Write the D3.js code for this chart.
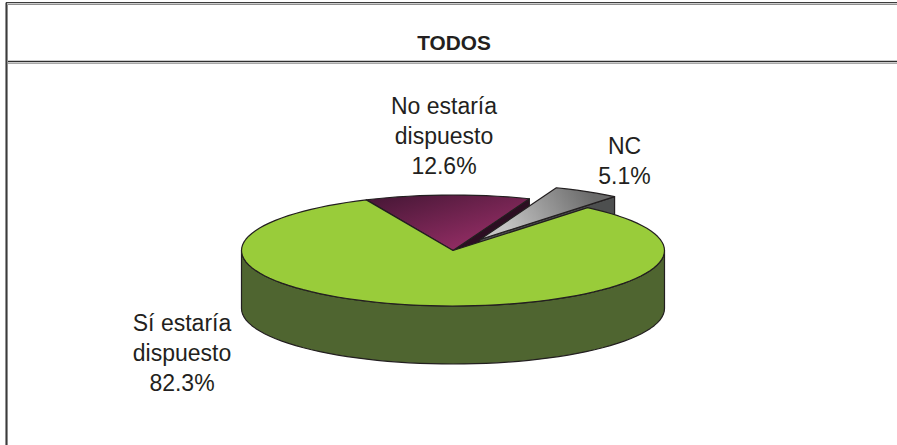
<!DOCTYPE html>
<html>
<head>
<meta charset="utf-8">
<script src="https://cdn.jsdelivr.net/npm/d3@7"></script>
<style>
	html, body { margin: 0; padding: 0; background: #fff; }
	svg { display: block; }
	text { font-family: "Liberation Sans", Arial, sans-serif; fill: #231f20; }
</style>
</head>
<body>
<svg id="chart" width="897" height="445"></svg>
<script>
var chartTitle = "TODOS";
var categories = ["No estaría dispuesto", "NC", "Sí estaría dispuesto"];
var percentages = [12.6, 5.1, 82.3];
var valueLabels = ["12.6%", "5.1%", "82.3%"];
var labelLines = [["No estaría", "dispuesto"], ["NC"], ["Sí estaría", "dispuesto"]];

var svg = d3.select("#chart");
var cx = 453, cy = 250.5, rx = 211.5, ry = 55.5, depth = 58;
var startDeg = -24.2;

var pie = d3.pie().sort(null).startAngle(startDeg * Math.PI / 180).endAngle((startDeg + 360) * Math.PI / 180);
var slices = pie(percentages);

// flat projection of the tilted pie, angle 0 is the back of the pie
function project(angle, off)
{
	return [cx + off[0] + rx * Math.sin(angle), cy + off[1] - ry * Math.cos(angle)];
}

function arcPoints(a0, a1, off)
{
	var steps = Math.max(2, Math.round((a1 - a0) / (3 * Math.PI / 180)));
	return d3.range(steps + 1).map(function (i) { return project(a0 + (a1 - a0) * i / steps, off); });
}

function down(points)
{
	return points.map(function (p) { return [p[0], p[1] + depth]; });
}

var line = d3.line();

var defs = svg.append("defs");
var purpleGrad = defs.append("linearGradient").attr("id", "purpleGrad")
	.attr("gradientUnits", "userSpaceOnUse")
	.attr("x1", 405).attr("y1", 190).attr("x2", 425).attr("y2", 255);
purpleGrad.append("stop").attr("offset", 0).attr("stop-color", "#4a1838");
purpleGrad.append("stop").attr("offset", 1).attr("stop-color", "#8c2b60");
var grayGrad = defs.append("linearGradient").attr("id", "grayGrad")
	.attr("gradientUnits", "userSpaceOnUse")
	.attr("x1", 590).attr("y1", 190).attr("x2", 510).attr("y2", 235);
grayGrad.append("stop").attr("offset", 0).attr("stop-color", "#6a6a6a");
grayGrad.append("stop").attr("offset", 1).attr("stop-color", "#c4c4c4");

var topFill = ["url(#purpleGrad)", "url(#grayGrad)", "#99cc3a"];
var wallFill = ["#2c0e22", "#4d4f4f", "#4f6530"];
var offsets = [[0, 0], [27, -11], [0, 0]];

// frame of the table around the chart
var frame = svg.append("g").attr("fill", "none");
frame.append("path").attr("d", "M5.5,445V3H897").attr("stroke", "#9a9a9a").attr("stroke-width", 1);
frame.append("path").attr("d", "M6.5,445V2.5H897").attr("stroke", "#3c3c3c").attr("stroke-width", 1.2);
frame.append("path").attr("d", "M7.5,445V4.5H897").attr("stroke", "#8e8e8e").attr("stroke-width", 1);
frame.append("path").attr("d", "M8,61.5H897").attr("stroke", "#2e2e2e").attr("stroke-width", 1.4);
frame.append("path").attr("d", "M8,63.5H897").attr("stroke", "#a8a8a8").attr("stroke-width", 1);

svg.append("text").attr("x", 454).attr("y", 50)
	.attr("text-anchor", "middle").attr("font-size", 20.8).attr("font-weight", "bold").text(chartTitle);

var pieGroup = svg.append("g").attr("stroke", "#231f20").attr("stroke-width", 1.2).attr("stroke-linejoin", "round");

// radial wall on the clockwise side of a slice
function drawRadialWall(i)
{
	var d = slices[i], off = offsets[i];
	var apex = [cx + off[0], cy + off[1]];
	var corner = project(d.endAngle, off);
	pieGroup.append("path")
		.attr("d", line([apex, corner, [corner[0], corner[1] + depth], [apex[0], apex[1] + depth]]) + "Z")
		.attr("fill", wallFill[i]);
}

function drawTop(i)
{
	var d = slices[i], off = offsets[i];
	var pts = [[cx + off[0], cy + off[1]]].concat(arcPoints(d.startAngle, d.endAngle, off));
	pieGroup.append("path").attr("d", line(pts) + "Z").attr("fill", topFill[i]);
}

drawRadialWall(0);
drawTop(0);
drawRadialWall(1);
drawTop(1);

// front wall of the big slice, only the half facing the viewer
var front = arcPoints(Math.PI / 2, 3 * Math.PI / 2, offsets[2]);
pieGroup.append("path")
	.attr("d", line(front.concat(down(front).reverse())) + "Z")
	.attr("fill", wallFill[2]);
drawTop(2);

var labelPos = [[444, 113.5], [624.5, 154], [182, 330.5]];
var lineGap = 30;
labelPos.forEach(function (p, i)
{
	var lines = labelLines[i].concat([valueLabels[i]]);
	var t = svg.append("text").attr("text-anchor", "middle").attr("font-size", 23);
	lines.forEach(function (s, k)
	{
		t.append("tspan").attr("x", p[0]).attr("y", p[1] + k * lineGap).text(s);
	});
	t.append("title").text(categories[i]);
});
</script>
</body>
</html>
